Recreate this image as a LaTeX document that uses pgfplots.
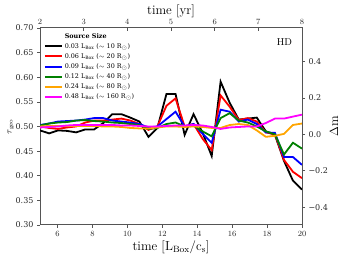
\documentclass[border=0pt]{standalone}
\usepackage{pgfplots}
\pgfplotsset{compat=1.18}
\usepackage{pgfplotstable}
\usepackage{fontspec}
\newfontfamily\dvs{DejaVu Serif}
\definecolor{cgreen}{HTML}{008000}
\definecolor{corange}{HTML}{FFA500}
\definecolor{cmag}{HTML}{FF00FF}
\definecolor{cred}{HTML}{FF0000}
\definecolor{cblue}{HTML}{0000FF}
\definecolor{cframe}{HTML}{555555}
\pgfplotstableread{
x b r bl g o m
5.00 0.492 0.500 0.503 0.502 0.500 0.498
5.52 0.486 0.497 0.506 0.506 0.501 0.499
6.03 0.492 0.495 0.510 0.508 0.501 0.500
6.55 0.491 0.498 0.511 0.509 0.501 0.502
7.07 0.488 0.500 0.512 0.512 0.501 0.503
7.59 0.494 0.508 0.514 0.513 0.501 0.503
8.10 0.494 0.512 0.517 0.511 0.501 0.503
8.62 0.507 0.512 0.517 0.510 0.500 0.503
9.14 0.525 0.514 0.512 0.508 0.500 0.503
9.66 0.525 0.516 0.510 0.507 0.499 0.502
10.17 0.518 0.512 0.508 0.505 0.497 0.502
10.69 0.510 0.505 0.505 0.503 0.496 0.501
11.21 0.479 0.493 0.498 0.495 0.496 0.500
11.72 0.497 0.500 0.500 0.497 0.498 0.500
12.24 0.566 0.542 0.515 0.505 0.500 0.501
12.76 0.566 0.557 0.530 0.508 0.500 0.502
13.28 0.483 0.500 0.500 0.500 0.499 0.502
13.79 0.525 0.505 0.505 0.502 0.500 0.503
14.31 0.487 0.475 0.485 0.490 0.499 0.502
14.83 0.440 0.452 0.467 0.480 0.497 0.499
15.34 0.591 0.563 0.534 0.517 0.497 0.495
15.86 0.548 0.540 0.530 0.527 0.503 0.498
16.38 0.514 0.513 0.510 0.512 0.505 0.499
16.90 0.516 0.517 0.514 0.508 0.503 0.500
17.41 0.518 0.510 0.505 0.500 0.492 0.500
17.93 0.490 0.488 0.488 0.490 0.479 0.507
18.45 0.483 0.484 0.487 0.484 0.481 0.516
18.97 0.430 0.432 0.438 0.443 0.485 0.516
19.48 0.390 0.408 0.438 0.467 0.503 0.520
20.00 0.372 0.395 0.422 0.455 0.506 0.524
}\data
\begin{document}
\begin{tikzpicture}
\pgfplotsset{
  every axis/.append style={
    width=262pt, height=197pt, scale only axis,
    tick align=outside, major tick length=3pt,
    every tick/.style={cframe, line width=0.6pt},
    axis line style={cframe, line width=1pt},
    tick label style={font=\dvs\fontsize{8}{9}\selectfont, text=black!85},
    label style={font=\fontsize{13}{15}\selectfont},
  }
}
\begin{axis}[name=main,
  xmin=5, xmax=20, ymin=0.30, ymax=0.70,
  xtick={6,8,...,20}, xtick pos=bottom,
  ytick={0.30,0.35,0.40,0.45,0.50,0.55,0.60,0.65,0.70},
  yticklabels={0.30,0.35,0.40,0.45,0.50,0.55,0.60,0.65,0.70},
  ytick pos=left,
  xlabel={time [L$_{\rm Box}$/c$_{\rm s}$]},
  ylabel={$\tau_{\rm geo}$},
  ylabel style={font=\fontsize{9}{10}\selectfont, yshift=-5pt},
  xlabel style={yshift=3pt},
  legend style={at={(rel axis cs:0.01,0.99)}, anchor=north west, draw=none, fill=none,
    font=\dvs\fontsize{6.4}{7.5}\selectfont, row sep=-0.3pt, inner sep=1pt,
    legend cell align=left},
  legend image code/.code={\draw[#1, line width=2pt] (0pt,0pt) -- (17pt,0pt);},
]
\addlegendimage{empty legend}
\addlegendentry{\textbf{Source Size}}
\addplot[black, line width=1.8pt] table[x=x,y=b]{\data};
\addlegendentry{0.03 L\textsubscript{Box} ($\sim$ 10 R$_\odot$)}
\addplot[cred, line width=1.8pt] table[x=x,y=r]{\data};
\addlegendentry{0.06 L\textsubscript{Box} ($\sim$ 20 R$_\odot$)}
\addplot[cblue, line width=1.8pt] table[x=x,y=bl]{\data};
\addlegendentry{0.09 L\textsubscript{Box} ($\sim$ 30 R$_\odot$)}
\addplot[cgreen, line width=1.8pt] table[x=x,y=g]{\data};
\addlegendentry{0.12 L\textsubscript{Box} ($\sim$ 40 R$_\odot$)}
\addplot[corange, line width=1.8pt] table[x=x,y=o]{\data};
\addlegendentry{0.24 L\textsubscript{Box} ($\sim$ 80 R$_\odot$)}
\addplot[cmag, line width=1.8pt] table[x=x,y=m]{\data};
\addlegendentry{0.48 L\textsubscript{Box} ($\sim$ 160 R$_\odot$)}
\node[anchor=north east, font=\fontsize{10}{12}\selectfont] at (rel axis cs:0.975,0.965) {HD};
\coordinate (bl) at (rel axis cs:-0.1527,-0.1675);
\coordinate (tr) at (rel axis cs:1.1603,1.142);
\end{axis}
\begin{axis}[
  xmin=2, xmax=8, ymin=0, ymax=1,
  axis x line*=top, axis y line=none,
  tick align=inside,
  xtick={2,3,...,8},
  xlabel={time [yr]},
  xlabel style={yshift=-5pt},
]
\end{axis}
\begin{axis}[
  xmin=0, xmax=1, ymin=-0.497, ymax=0.583,
  axis y line*=right, axis x line=none,
  ytick={-0.4,-0.2,0,0.2,0.4},
  yticklabels={−0.4,−0.2,0.0,0.2,0.4},
  ylabel={$\Delta$m},
  ylabel style={yshift=5pt},
]
\end{axis}
\pgfresetboundingbox
\path (bl) rectangle (tr);
\end{tikzpicture}
\end{document}
